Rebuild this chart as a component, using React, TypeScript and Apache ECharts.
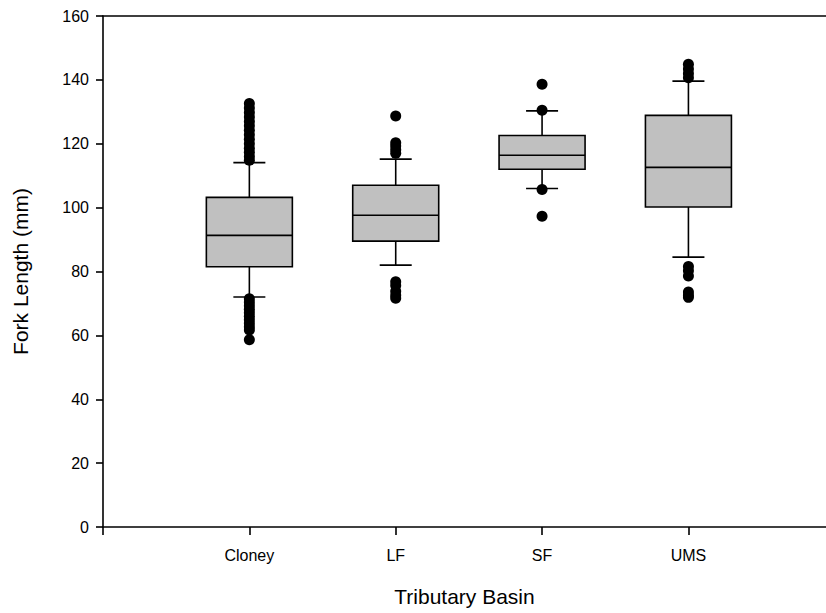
import React, { useEffect, useRef } from "react";
import * as echarts from "echarts";

const categories = ["Cloney", "LF", "SF", "UMS"];
const whiskerLow = [72, 82, 106, 84.5];
const quartile1 = [81.5, 89.5, 112, 100.2];
const medians = [91.3, 97.6, 116.4, 112.6];
const quartile3 = [103.2, 107, 122.6, 128.9];
const whiskerHigh = [114.1, 115.2, 130.3, 139.6];

const outliersCloney = [114.8, 116, 117.3, 118.6, 120, 121.4, 122.8, 124.2, 125.6, 127, 128.4, 129.8, 131.2, 132.6, 71.5, 70.4, 69.3, 68.2, 67.1, 66, 64.9, 63.8, 62.7, 61.7, 58.6];
const outliersLF = [128.7, 120.3, 119.3, 118.1, 117, 76.8, 75.6, 73.8, 72.6, 71.6];
const outliersSF = [138.6, 130.5, 105.7, 97.3];
const outliersUMS = [144.9, 143.4, 142, 140.7, 81.6, 80.2, 78.6, 73.6, 72.6, 71.9];
const outlierGroups = [outliersCloney, outliersLF, outliersSF, outliersUMS];

const yTicks = [0, 20, 40, 60, 80, 100, 120, 140, 160];

const FONT = "'Liberation Sans', Arial, sans-serif";

export default function App() {
  const ref = useRef<HTMLDivElement>(null);
  useEffect(() => {
    if (!ref.current) return;
    const chart = echarts.init(ref.current, null, { renderer: "svg" });
    const boxData = categories.map((_, i) => [
      i + 1,
      whiskerLow[i],
      quartile1[i],
      medians[i],
      quartile3[i],
      whiskerHigh[i],
    ]);
    const outlierData: number[][] = [];
    outlierGroups.forEach((g, i) => g.forEach((v) => outlierData.push([i + 1, v])));

    const axisLine = { show: true, lineStyle: { color: "#000", width: 1.6 } };
    chart.setOption({
      animation: false,
      backgroundColor: "#fff",
      grid: { left: 103, right: 0, top: 16, bottom: 86, containLabel: false },
      xAxis: [
        {
          type: "value",
          min: 0,
          max: 4.94,
          interval: 1,
          position: "bottom",
          splitLine: { show: false },
          axisLine,
          axisTick: {
            show: true,
            length: 8,
            customValues: [0, 1, 2, 3, 4],
            lineStyle: { color: "#000", width: 1.6 },
          },
          axisLabel: {
            customValues: [1, 2, 3, 4],
            formatter: (v: number) => categories[Math.round(v) - 1] ?? "",
            color: "#000",
            fontSize: 16,
            fontFamily: FONT,
            margin: 20,
          },
          name: "Tributary Basin",
          nameLocation: "middle",
          nameGap: 59,
          nameTextStyle: { color: "#000", fontSize: 21, fontFamily: FONT },
        },
        {
          type: "value",
          min: 0,
          max: 4.94,
          position: "top",
          axisLine,
          axisTick: { show: false },
          axisLabel: { show: false },
          splitLine: { show: false },
        },
      ],
      yAxis: {
        type: "value",
        min: yTicks[0],
        max: yTicks[yTicks.length - 1],
        interval: 20,
        splitLine: { show: false },
        axisLine,
        axisTick: { show: true, length: 7, lineStyle: { color: "#000", width: 1.6 } },
        axisLabel: { color: "#000", fontSize: 16, fontFamily: FONT, margin: 14 },
        name: "Fork Length (mm)",
        nameLocation: "middle",
        nameGap: 72,
        nameTextStyle: { color: "#000", fontSize: 21, fontFamily: FONT },
      },
      series: [
        {
          type: "custom",
          xAxisIndex: 0,
          yAxisIndex: 0,
          data: boxData,
          renderItem: (_params: any, api: any) => {
            const x = api.value(0);
            const pMin = api.coord([x, api.value(1)]);
            const pQ1 = api.coord([x, api.value(2)]);
            const pMed = api.coord([x, api.value(3)]);
            const pQ3 = api.coord([x, api.value(4)]);
            const pMax = api.coord([x, api.value(5)]);
            const cx = pMed[0];
            const halfBox = 43;
            const halfCap = 16;
            const ls = { stroke: "#000", lineWidth: 1.6 };
            return {
              type: "group",
              children: [
                { type: "line", shape: { x1: cx, y1: pQ1[1], x2: cx, y2: pMin[1] }, style: ls },
                { type: "line", shape: { x1: cx - halfCap, y1: pMin[1], x2: cx + halfCap, y2: pMin[1] }, style: ls },
                { type: "line", shape: { x1: cx, y1: pQ3[1], x2: cx, y2: pMax[1] }, style: ls },
                { type: "line", shape: { x1: cx - halfCap, y1: pMax[1], x2: cx + halfCap, y2: pMax[1] }, style: ls },
                {
                  type: "rect",
                  shape: { x: cx - halfBox, y: pQ3[1], width: halfBox * 2, height: pQ1[1] - pQ3[1] },
                  style: { fill: "#c0c0c0", stroke: "#000", lineWidth: 1.6 },
                },
                { type: "line", shape: { x1: cx - halfBox, y1: pMed[1], x2: cx + halfBox, y2: pMed[1] }, style: ls },
              ],
            };
          },
        },
        {
          type: "scatter",
          xAxisIndex: 0,
          yAxisIndex: 0,
          data: outlierData,
          symbol: "circle",
          symbolSize: 11,
          itemStyle: { color: "#000", opacity: 1 },
          z: 5,
        },
      ],
    });
    return () => chart.dispose();
  }, []);
  return (
    <div
      ref={ref}
      style={{ position: "fixed", left: 0, top: 0, width: 826, height: 613, background: "#fff" }}
    />
  );
}
